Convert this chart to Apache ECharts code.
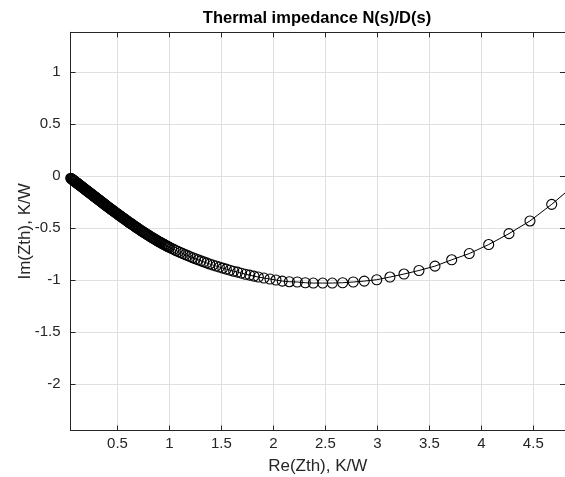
<!DOCTYPE html>
<html>
<head>
    <meta charset="utf-8">
    <title>Thermal impedance</title>
    <script src="https://cdn.jsdelivr.net/npm/echarts@6/dist/echarts.min.js"></script>
</head>
<body>
<div id="main"></div>
<style type="text/css">
    html, body {
        margin: 0px;
        padding: 0px;
        background: #fff;
    }

    #main {
        width: 565px;
        height: 477px;
    }
</style>

<script type="text/javascript">
    // Re / Im of Zth (very dense near the origin)
    var reX = [
        0.050, 0.055, 0.060, 0.065, 0.070, 0.075, 0.080, 0.085, 0.090, 0.095,
        0.100, 0.105, 0.110, 0.115, 0.120, 0.125, 0.130, 0.135, 0.140, 0.145,
        0.150, 0.155, 0.160, 0.165, 0.170, 0.175, 0.180, 0.185, 0.190, 0.195,
        0.200, 0.205, 0.210, 0.215, 0.220, 0.225, 0.230, 0.235, 0.240, 0.245,
        0.250, 0.255, 0.260, 0.265, 0.270, 0.275, 0.280, 0.285, 0.290, 0.295,
        0.300, 0.305, 0.310, 0.315, 0.320, 0.325, 0.330, 0.335, 0.340, 0.345,
        0.350, 0.355, 0.360, 0.365, 0.370, 0.375, 0.380, 0.385, 0.390, 0.395,
        0.400,
        0.4075, 0.415, 0.4225, 0.430, 0.4375, 0.445, 0.4525, 0.460, 0.4675, 0.475,
        0.4825, 0.490, 0.4975, 0.505, 0.5125, 0.520, 0.5275, 0.535, 0.5425, 0.550,
        0.5575, 0.565, 0.5725, 0.580, 0.5875, 0.595, 0.6025, 0.610, 0.6175, 0.625,
        0.6325, 0.640, 0.6475, 0.655, 0.6625, 0.670, 0.6775, 0.685, 0.6925, 0.700,
        0.71, 0.72, 0.73, 0.74, 0.75, 0.76, 0.77, 0.78, 0.79, 0.80,
        0.81, 0.82, 0.83, 0.84, 0.85, 0.86, 0.87, 0.88, 0.89, 0.90,
        0.91, 0.92, 0.93, 0.94, 0.95, 0.96, 0.97, 0.98, 0.99, 1.00,
        1.020, 1.041, 1.062, 1.084, 1.106, 1.129, 1.152, 1.176, 1.200, 1.225,
        1.250, 1.276, 1.303, 1.330, 1.358, 1.387, 1.417, 1.448, 1.480, 1.513,
        1.547, 1.582, 1.618, 1.655, 1.693, 1.732, 1.772, 1.813, 1.855,
        1.909, 1.967, 2.025, 2.085, 2.153, 2.230, 2.307, 2.384, 2.474, 2.566,
        2.666, 2.768, 2.874, 2.994, 3.121, 3.256, 3.400, 3.554, 3.715, 3.884,
        4.071, 4.266, 4.468, 4.677, 4.890
    ];
    var imY = [
        -0.020, -0.024, -0.028, -0.032, -0.035, -0.039, -0.043, -0.047, -0.051, -0.055,
        -0.059, -0.062, -0.066, -0.070, -0.074, -0.078, -0.082, -0.086, -0.089, -0.093,
        -0.097, -0.101, -0.105, -0.109, -0.113, -0.116, -0.120, -0.124, -0.128, -0.132,
        -0.136, -0.140, -0.143, -0.147, -0.151, -0.155, -0.159, -0.163, -0.167, -0.170,
        -0.174, -0.178, -0.182, -0.186, -0.190, -0.194, -0.197, -0.201, -0.205, -0.209,
        -0.213, -0.217, -0.221, -0.224, -0.228, -0.232, -0.236, -0.240, -0.244, -0.248,
        -0.251, -0.255, -0.259, -0.263, -0.267, -0.271, -0.275, -0.278, -0.282, -0.286,
        -0.290,
        -0.296, -0.301, -0.307, -0.312, -0.318, -0.324, -0.329, -0.335, -0.340, -0.346,
        -0.351, -0.357, -0.362, -0.368, -0.373, -0.379, -0.384, -0.390, -0.395, -0.401,
        -0.406, -0.412, -0.417, -0.422, -0.428, -0.433, -0.438, -0.444, -0.449, -0.454,
        -0.459, -0.465, -0.470, -0.475, -0.480, -0.485, -0.491, -0.496, -0.501, -0.506,
        -0.513, -0.520, -0.526, -0.533, -0.539, -0.546, -0.552, -0.559, -0.565, -0.571,
        -0.578, -0.584, -0.590, -0.596, -0.602, -0.608, -0.614, -0.620, -0.626, -0.632,
        -0.637, -0.643, -0.649, -0.654, -0.660, -0.665, -0.671, -0.676, -0.681, -0.686,
        -0.696, -0.706, -0.716, -0.726, -0.736, -0.746, -0.756, -0.766, -0.776, -0.786,
        -0.796, -0.806, -0.816, -0.826, -0.836, -0.846, -0.856, -0.866, -0.876, -0.886,
        -0.896, -0.906, -0.916, -0.925, -0.935, -0.945, -0.954, -0.963, -0.972,
        -0.982, -0.991, -1.001, -1.011, -1.017, -1.020, -1.027, -1.030, -1.030, -1.030,
        -1.027, -1.020, -1.011, -0.998, -0.972, -0.943, -0.909, -0.867, -0.806, -0.746,
        -0.659, -0.554, -0.432, -0.272, -0.090
    ];

    var xTicks = [0.5, 1, 1.5, 2, 2.5, 3, 3.5, 4, 4.5];
    var yTicks = [-2, -1.5, -1, -0.5, 0, 0.5, 1];

    var xMin = 0.048, xMax = 4.805;
    var yMin = -2.45, yMax = 1.385;

    var points = [];
    for (var i = 0; i < reX.length; i++) {
        points.push([reX[i], imY[i]]);
    }

    var txt = '#262626';
    var font = 'Liberation Sans, Arial, sans-serif';

    var myChart = echarts.init(document.getElementById('main'));

    // top / right axes that close the box
    var boxAxis = function (pos, isX) {
        var ticks = isX ? xTicks : yTicks;
        return {
            type: 'value',
            position: pos,
            min: isX ? xMin : yMin,
            max: isX ? xMax : yMax,
            axisLine: {show: true, onZero: false, lineStyle: {color: txt, width: 1}},
            axisTick: {show: true, inside: true, length: 5, customValues: ticks, lineStyle: {color: txt}},
            axisLabel: {show: false, customValues: ticks},
            splitLine: {show: false}
        };
    };

    var option = {
        backgroundColor: '#fff',
        animation: false,
        title: {
            text: 'Thermal impedance N(s)/D(s)',
            left: 312,
            top: 5,
            textAlign: 'center',
            textStyle: {fontFamily: font, fontSize: 16.5, fontWeight: 'bold', color: '#000'}
        },
        grid: {left: 70.5, top: 32.3, right: 0, bottom: 46.5, outerBoundsMode: 'none'},
        xAxis: [{
            type: 'value',
            min: xMin,
            max: xMax,
            name: 'Re(Zth), K/W',
            nameLocation: 'middle',
            nameGap: 27,
            nameMoveOverlap: false,
            nameTextStyle: {fontFamily: font, fontSize: 17, color: txt},
            axisLine: {show: true, onZero: false, lineStyle: {color: txt, width: 1}},
            axisTick: {show: true, inside: true, length: 5, customValues: xTicks, lineStyle: {color: txt}},
            axisLabel: {fontFamily: font, fontSize: 15, color: txt, margin: 6, customValues: xTicks},
            splitLine: {show: true, lineStyle: {color: '#dfdfdf', width: 1}}
        }, boxAxis('top', true)],
        yAxis: [{
            type: 'value',
            min: yMin,
            max: yMax,
            name: 'Im(Zth), K/W',
            nameLocation: 'middle',
            nameGap: 37,
            nameRotate: 90,
            nameMoveOverlap: false,
            nameTextStyle: {fontFamily: font, fontSize: 17, color: txt},
            axisLine: {show: true, onZero: false, lineStyle: {color: txt, width: 1}},
            axisTick: {show: true, inside: true, length: 5, customValues: yTicks, lineStyle: {color: txt}},
            axisLabel: {fontFamily: font, fontSize: 15, color: txt, margin: 10, customValues: yTicks},
            splitLine: {show: true, lineStyle: {color: '#dfdfdf', width: 1}}
        }, boxAxis('right', false)],
        series: [{
            type: 'line',
            data: points,
            symbol: 'circle',
            symbolSize: 10,
            showAllSymbol: true,
            clip: true,
            lineStyle: {color: '#000', width: 1},
            itemStyle: {color: 'rgba(0,0,0,0)', borderColor: '#000', borderWidth: 1.1}
        }]
    };

    myChart.setOption(option);
</script>
</body>
</html>
